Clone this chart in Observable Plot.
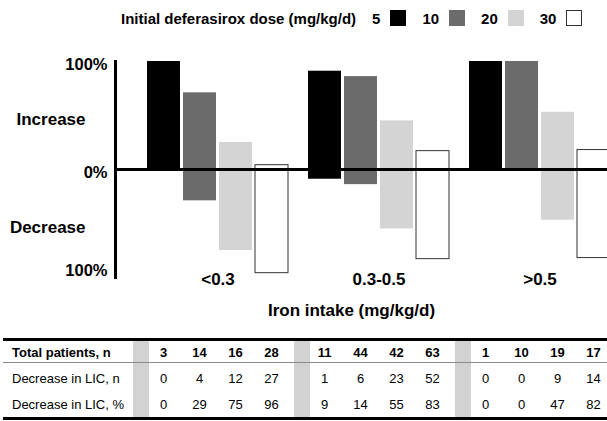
<!DOCTYPE html>
<html>
<head>
<meta charset="utf-8">
<script src="https://cdn.jsdelivr.net/npm/d3@7"></script>
<script src="https://cdn.jsdelivr.net/npm/@observablehq/plot@0.6"></script>
<style>
  html, body { margin: 0; padding: 0; background: #fff; }
  body { width: 607px; height: 421px; overflow: hidden; position: relative;
         font-family: "Liberation Sans", Arial, Helvetica, sans-serif; color: #000; }
  #legend { position: absolute; top: 8px; left: 121px; height: 20px; display: flex; align-items: center;
            font-size: 15px; font-weight: bold; white-space: nowrap; }
  #legend .item { display: flex; align-items: center; margin-left: 16px; }
  #legend .item:first-of-type { margin-left: 35px; }
  #legend .sw { width: 16px; height: 16px; margin-left: 10px; box-sizing: border-box; }
  #chart { position: absolute; top: 40px; left: 0; }
  #table { position: absolute; top: 0; left: 0; width: 607px; height: 421px; pointer-events: none; }
  #table div { position: absolute; }
  .cell { font-size: 13px; line-height: 20px; height: 20px; width: 34px; text-align: center; white-space: nowrap; }
  .rowlab { font-size: 13px; line-height: 20px; height: 20px; white-space: nowrap; }
</style>
</head>
<body>
<div id="legend"></div>
<div id="chart"></div>
<div id="table"></div>
<script>
// ---- data ----
const groups = ["<0.3", "0.3-0.5", ">0.5"];
const doses = [5, 10, 20, 30];
const totalPatients = [[3, 14, 16, 28], [11, 44, 42, 63], [1, 10, 19, 17]];
const decreaseN = [[0, 4, 12, 27], [1, 6, 23, 52], [0, 0, 9, 14]];
const decreasePct = [[0, 29, 75, 96], [9, 14, 55, 83], [0, 0, 47, 82]];
const legendTitle = "Initial deferasirox dose (mg/kg/d)";
const xTitle = "Iron intake (mg/kg/d)";
const yLabels = ["Increase", "Decrease"];
const rowLabels = ["Total patients, n", "Decrease in LIC, n", "Decrease in LIC, %"];

// ---- styles ----
const doseFills = ["#000000", "#6b6b6b", "#d4d4d4", "#ffffff"];
const doseStrokes = ["none", "none", "none", "#333333"];
const barStep = 36;

// ---- rows ----
const rows = [];
groups.forEach((g, gi) => doses.forEach((d, di) => {
  rows.push({group: g, dose: d, di, decrease: decreasePct[gi][di], increase: 100 - decreasePct[gi][di]});
}));

// ---- legend ----
const legend = document.getElementById("legend");
const lt = document.createElement("span");
lt.textContent = legendTitle;
legend.appendChild(lt);
doses.forEach((d, di) => {
  const it = document.createElement("span");
  it.className = "item";
  const l = document.createElement("span");
  l.textContent = d;
  const sw = document.createElement("span");
  sw.className = "sw";
  sw.style.background = doseFills[di];
  if (doseStrokes[di] !== "none") sw.style.border = "1px solid " + doseStrokes[di];
  it.appendChild(l); it.appendChild(sw);
  legend.appendChild(it);
});

// ---- chart ----
const chart = Plot.plot({
  width: 607,
  height: 290,
  marginTop: 21,
  marginBottom: 53,
  marginLeft: 115,
  marginRight: 0,
  style: {fontFamily: "'Liberation Sans', Arial, Helvetica, sans-serif", fontSize: "17px", fontWeight: "bold", color: "#000", background: "white", overflow: "hidden"},
  x: {domain: groups, range: [137, 620], paddingInner: 0.795, paddingOuter: 0.3975, align: 0.5, label: null},
  y: {domain: [-100, 100], label: null},
  marks: [
    ...doses.map((d, di) => Plot.barY(rows.filter(r => r.dose === d), {
      x: "group",
      y1: r => -r.decrease,
      y2: "increase",
      fill: doseFills[di],
      stroke: doseStrokes[di],
      strokeWidth: 1,
      inset: 0,
      dx: (di - (doses.length - 1) / 2) * barStep
    })),
    Plot.ruleY([0], {stroke: "#000", strokeWidth: 3}),
    Plot.frame({anchor: "left", stroke: "#000", strokeWidth: 3}),
    Plot.axisY({ticks: [100, 0], tickFormat: d => Math.abs(d) + "%", tickSize: 0, tickPadding: 8, dy: 3, fontSize: 16.5, label: null}),
    Plot.axisY({ticks: [-100], tickFormat: d => Math.abs(d) + "%", tickSize: 0, tickPadding: 8, dy: -7, fontSize: 16.5, label: null}),
    Plot.axisY({ticks: [50, -50], tickFormat: d => d > 0 ? yLabels[0] : yLabels[1], tickSize: 0, tickPadding: 30, dy: 4, fontSize: 17, label: null}),
    Plot.axisX({tickSize: 0, tickPadding: 0, dy: -5, label: null}),
    Plot.text([xTitle], {frameAnchor: "bottom", dy: 33, dx: -10, fontSize: 17, fontWeight: "bold", lineAnchor: "middle"})
  ]
});
document.getElementById("chart").appendChild(chart);

// ---- table (columns aligned with the chart's x scale) ----
const xs = chart.scale("x");
const table = document.getElementById("table");
function add(cls, css, text) {
  const el = document.createElement("div");
  if (cls) el.className = cls;
  Object.assign(el.style, css);
  if (text !== undefined) el.textContent = text;
  table.appendChild(el);
  return el;
}
const colCenter = (gi, di) => xs.apply(groups[gi]) + xs.bandwidth / 2 + (di - (doses.length - 1) / 2) * barStep;
// gray separator columns
groups.forEach((g, gi) => {
  const barLeft = colCenter(gi, 0) - xs.bandwidth / 2;
  add(null, {left: (barLeft - 14) + "px", top: "341px", width: "16px", height: "76px", background: "#d2d2d2"});
});
// borders
add(null, {left: "3px", top: "338px", width: "604px", height: "3px", background: "#000"});
add(null, {left: "3px", top: "362px", width: "604px", height: "1px", background: "#8a8a8a"});
add(null, {left: "3px", top: "417px", width: "604px", height: "2.5px", background: "#000"});
// rows
const rowCenters = [352.5, 379, 405];
const rowData = [totalPatients, decreaseN, decreasePct];
rowLabels.forEach((lab, ri) => {
  const bold = ri === 0 ? "bold" : "normal";
  add("rowlab", {left: "12px", top: (rowCenters[ri] - 10) + "px", fontWeight: bold}, lab);
  groups.forEach((g, gi) => doses.forEach((d, di) => {
    add("cell", {left: (colCenter(gi, di) - 17) + "px", top: (rowCenters[ri] - 10) + "px", fontWeight: bold}, rowData[ri][gi][di]);
  }));
});
</script>
</body>
</html>
